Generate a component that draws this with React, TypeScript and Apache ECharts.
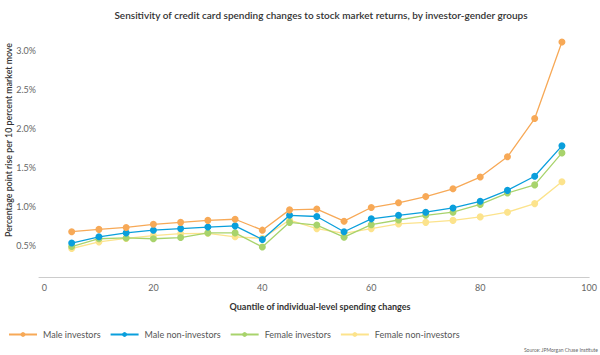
import React, { useEffect, useRef } from "react";
import * as echarts from "echarts";

const quantiles = [5, 10, 15, 20, 25, 30, 35, 40, 45, 50, 55, 60, 65, 70, 75, 80, 85, 90, 95];
const maleInvestors = [0.68, 0.71, 0.735, 0.775, 0.8, 0.825, 0.84, 0.7, 0.96, 0.97, 0.815, 0.99, 1.05, 1.13, 1.23, 1.38, 1.64, 2.13, 3.11];
const maleNonInvestors = [0.535, 0.615, 0.665, 0.7, 0.72, 0.74, 0.755, 0.58, 0.89, 0.875, 0.68, 0.845, 0.89, 0.93, 0.985, 1.07, 1.21, 1.39, 1.78];
const femaleInvestors = [0.49, 0.59, 0.6, 0.59, 0.605, 0.665, 0.665, 0.485, 0.8, 0.765, 0.61, 0.77, 0.83, 0.89, 0.93, 1.03, 1.175, 1.28, 1.69];
const femaleNonInvestors = [0.465, 0.55, 0.595, 0.63, 0.655, 0.66, 0.615, 0.595, 0.83, 0.72, 0.66, 0.72, 0.78, 0.8, 0.825, 0.87, 0.93, 1.04, 1.32];
const seriesNames = ["Male investors", "Male non-investors", "Female investors", "Female non-investors"];
const seriesColors = ["#F7A957", "#0A9FDC", "#A8D36C", "#FCE38C"];
const yTicks = [0.5, 1.0, 1.5, 2.0, 2.5, 3.0];
const xTicks = [0, 20, 40, 60, 80, 100];

export default function App() {
  const ref = useRef<HTMLDivElement>(null);
  useEffect(() => {
    if (!ref.current) return;
    const chart = echarts.init(ref.current, null, { renderer: "svg" });
    const allData = [maleInvestors, maleNonInvestors, femaleInvestors, femaleNonInvestors];
    const font = "Lato";
    chart.setOption({
      animation: false,
      textStyle: { fontFamily: font },
      grid: { left: 39, right: 9, top: 35, bottom: 78, containLabel: false },
      graphic: [
        {
          type: "text",
          x: 321,
          y: 15,
          style: {
            text: "Sensitivity of credit card spending changes to stock market returns, by investor-gender groups",
            fontFamily: font,
            fontSize: 10,
            fontWeight: 600,
            fill: "#333",
            align: "center",
            verticalAlign: "middle",
          },
        },
        {
          type: "text",
          x: 320,
          y: 306,
          style: {
            text: "Quantile of individual-level spending changes",
            fontFamily: font,
            fontSize: 9,
            fontWeight: 700,
            fill: "#333",
            align: "center",
            verticalAlign: "middle",
          },
        },
        {
          type: "text",
          x: 8,
          y: 140,
          rotation: Math.PI / 2,
          style: {
            text: "Percentage point rise per 10 percent market move",
            fontFamily: font,
            fontSize: 8.8,
            fontWeight: 600,
            fill: "#333",
            align: "center",
            verticalAlign: "middle",
          },
        },
        {
          type: "text",
          right: 2,
          top: 347,
          style: {
            text: "Source: JPMorgan Chase Institute",
            fontFamily: font,
            fontSize: 5,
            fill: "#666",
          },
        },
      ],
      legend: {
        top: 325,
        left: 3,
        itemWidth: 28,
        itemHeight: 6,
        itemGap: 9,
        textStyle: { fontFamily: font, fontSize: 9, color: "#555", padding: [0, 0, 0, 1] },
        data: seriesNames,
      },
      xAxis: {
        type: "value",
        min: -1,
        max: 100,
        axisLine: { show: true, lineStyle: { color: "#ccc", width: 1 } },
        axisTick: { show: false },
        splitLine: { show: false },
        axisLabel: {
          customValues: xTicks,
          color: "#666",
          fontSize: 9,
          margin: 6,
          showMaxLabel: true,
        },
      },
      yAxis: {
        type: "value",
        min: 0.1,
        max: 3.2,
        axisLine: { show: false },
        axisTick: { show: false },
        splitLine: { show: false },
        axisLabel: {
          customValues: yTicks,
          color: "#666",
          fontSize: 9,
          margin: 3,
          formatter: (v: number) => v.toFixed(1) + "%",
        },
      },
      series: seriesNames.map((name, i) => ({
        name,
        type: "line",
        data: quantiles.map((q, j) => [q, allData[i][j]]),
        symbol: "circle",
        symbolSize: 7,
        color: seriesColors[i],
        lineStyle: { width: 1.3, color: seriesColors[i] },
        itemStyle: { color: seriesColors[i] },
        z: 10 - i,
      })),
    });
    return () => chart.dispose();
  }, []);
  return <div ref={ref} style={{ width: 600, height: 355, position: "absolute", left: 0, top: 0 }} />;
}
